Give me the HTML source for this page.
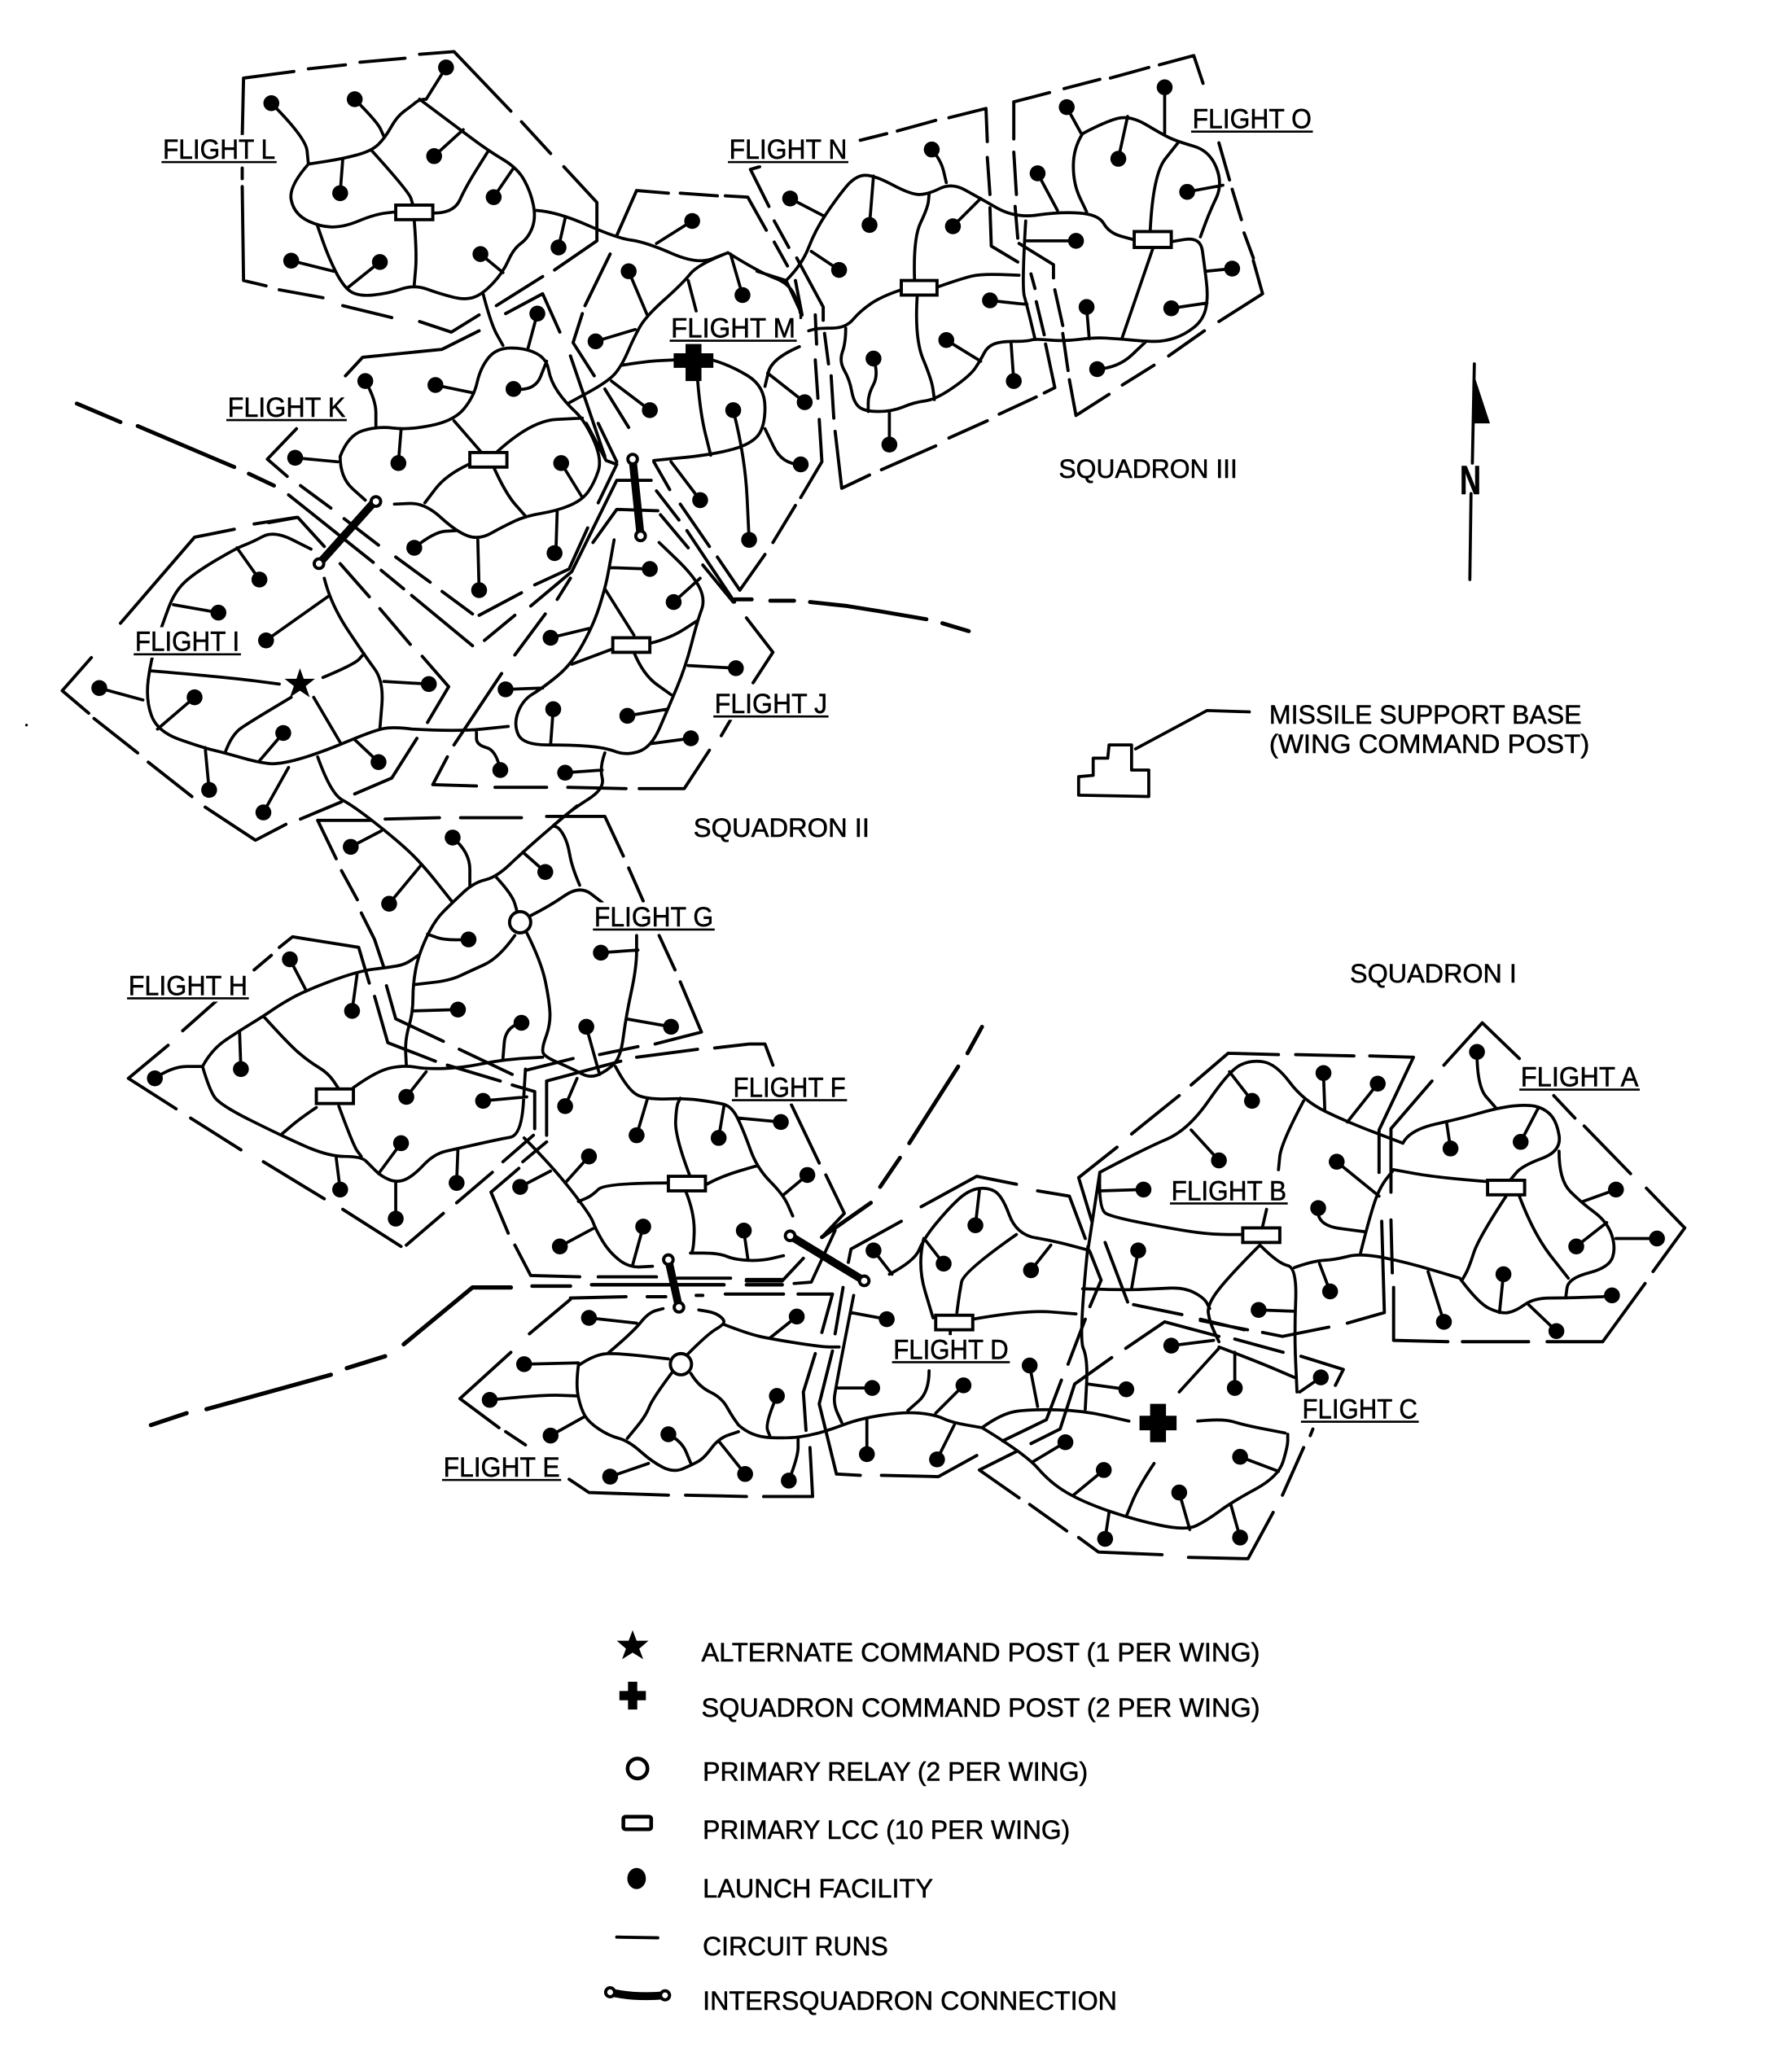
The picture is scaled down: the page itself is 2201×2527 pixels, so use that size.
<!DOCTYPE html>
<html><head><meta charset="utf-8"><style>
html,body{margin:0;padding:0;background:#fff}
svg{display:block}
text{font-family:"Liberation Sans",sans-serif;fill:#000;font-size:20px;stroke:#000;stroke-width:.35}
.f{font-size:21px}
.c{fill:none;stroke:#000;stroke-width:2.3;stroke-linejoin:round;stroke-linecap:round}
.b{fill:none;stroke:#000;stroke-width:2.4;stroke-linejoin:round;stroke-linecap:round}
.u{fill:none;stroke:#000;stroke-width:1.6}
.d{fill:none;stroke:#000;stroke-width:12;stroke-linecap:round}
.r{fill:#fff;stroke:#000;stroke-width:2.4}
.t{fill:none;stroke:#000;stroke-width:6;stroke-linecap:round}
.o{fill:#fff;stroke:#000;stroke-width:2.4}
</style></head><body>
<svg xmlns="http://www.w3.org/2000/svg" width="2201" height="2527" viewBox="0 0 1354 1554.6">
<rect width="1354" height="1554.6" fill="#fff"/>

<!-- boundaries (explicit dashes) -->
<path class="b" d="
M184,59L222,54M233,52L261,49M272,47L306,44M317,41L343,39L386,84M394,92L416,116M426,126L451,153L451,182L419,204M410,209L375,231M362,238L341,251L317,243M296,240L259,231M244,225L211,219M201,216L184,212L183,141M183,135L183,127M183,104L184,59
M224,324L202,347L217,360M227,367L250,384M260,392L286,412M299,421L325,440M334,447L357,464M362,465L394,448M404,442L430,430L444,399M452,380L466,351L458,348L443,320M261,284L274,270L334,264L362,250M382,237L410,222L423,251M431,269L457,345M452,320L466,349
M481,144L505,146M514,146L542,148M548,148L565,149L579,174M585,183L595,201M601,212L606,238M616,238L617,260M616,272L618,301M619,317L621,349L605,376M601,382L584,410M578,419L559,446L542,421M536,413L514,381M506,370L494,349
M481,144L466,178M461,192L442,231M440,237L433,259L449,284M457,294L475,323
M496,371L513,393M519,401L555,455
M401,458L432,432L466,363L492,363M366,484L389,465
M343,563L379,509M389,495L412,464M421,453L431,437M448,410L466,385L497,386M499,389L520,414M531,427L554,455
M338,572L327,593L360,594M374,595L413,595M429,595L473,596M483,596L517,596L536,567M545,556L552,544M569,516L584,493L564,467
M218,374L282,425M288,431L305,445M311,450L357,488
M203,395L225,391L245,413M257,426L279,451M287,460L310,487M319,496L339,519L323,546M315,558L296,588L268,600M258,606L227,619M216,623L193,635L155,610M145,602L112,576M104,569L71,543M67,539L47,522L69,497M91,471L147,406L177,400M192,396L224,391
M574,126L567,128L581,156M585,167L596,187M602,195L622,232L622,242M623,252L626,275M628,284L630,316M631,326L636,369L657,359M666,355L707,337M717,331L746,318M755,313L783,300M789,297L797,293L790,260M783,228L789,253M779,207L782,218M650,106L670,101M678,99L707,91M717,89L745,82L746,107M746,119L748,147M748,157L749,186L769,198M770,184L796,200L796,210M797,219L803,246
M766,77L766,105M766,115L768,147M767,156L769,180M803,252L807,280M808,287L813,314L838,298M848,291L872,276M883,269L910,250M921,243L954,222L947,197M940,176L947,195M931,143L938,166M921,108L929,136M909,63L902,42L876,49M868,51L839,59M831,60L804,67M793,70L766,77
M97,815L127,790M138,779L164,756M192,733L205,722M211,716L221,708L271,716L279,743M283,753L293,788L329,802M338,805L378,817M387,820L404,825L404,853M97,815L133,838M144,845L182,869M199,878L245,906M259,914L303,942M307,941L335,917M345,909L372,886M380,878L403,858
M240,620L280,620M291,619L332,618M348,618L394,618M413,617L457,617L471,647M475,656L486,681M498,707L510,733M514,742L530,780L495,789M482,791L453,797M433,800L397,809M240,620L254,649M258,658L270,680M273,690L283,710L290,731M292,745L299,770L335,787M347,793L387,812
M413,817L413,858M413,817L469,802M481,799L527,793M540,792L566,789L578,789L584,805M598,835L619,879M624,888L638,917L621,935M607,951L592,967L564,967M395,878L413,863M371,901L392,883M371,901L384,932M389,941L401,964L438,965M452,965L496,965M512,966L552,966
M431,982L400,1008M386,1022L347.5,1057L377,1079M382,1082L397,1092M430,1118L445,1128L505,1130M518,1130L564,1131M577,1131L614,1131L612,1094M609,1081L607,1052L616,1023M621,1007L629,978L603,978M592,978L548,978M531,979L526,979M503,980L489,980M473,980L431,981
M641,954L643,944L681,923M696,912L738,889L768,895M784,900L808,904L820,936M823.5,946L832,967.5L823.5,987.5M820,997L807,1031M802,1043L790.6,1073L757.6,1089M632,1114L650,1115M666,1115L709,1116L738,1100M632,1114L619,1061L629,1021M637,973L631,1008
M850.6,1019L880,999L921,1010M840,1026L812,1046L801,1080L779,1091M768,1097L740,1111L770,1132M778,1137L806,1157M815,1162L830,1173L878,1175M898,1177L943,1178L962,1143M969,1130L985,1094M990,1085L992,1080M907,998L942.6,1005M933,1012L969.5,1022M983,1025L1015,1035L1009,1047
M928,796L900,820M891,828L855,857M844,867L815,890L825,923M928,796L966,797M979,797L1023,798M1035,798L1068,799L1042,854L1042,886M1044,923L1046,992L1018,1000M1004,1003L969,1010L954,1007M940,1005L907,997M893,993.5L856.5,986M852,984L835,939
M1120,773L1148,800M1091,805L1120,773M1082,817L1051,853L1051,901M1051,922L1052,962M1053,973L1053,1013L1094,1014M1105,1014L1155,1014M1169,1014L1211,1014L1243,970M1249,961L1273,928L1244,898M1232,887L1197,851M1190,845L1174,828"/>
<path class="c" style="stroke-width:2.7" d="M402,972L431,972M447,971L547,971M564,971L591,971M564,968L591,968"/>
<path class="c" d="M631,930L613,969L600,970"/>
<path class="c" style="stroke-width:3" d="M58,305L91,319M104,322L177,353M188,358L207,367"/>
<path class="c" style="stroke-width:3" d="M555,453L568,453M582,454L600,454M612,455L640,458L665,462L700,468M712,471L732,477"/>
<path class="c" style="stroke-width:3.2" d="M114,1077L141,1068M156,1065L250,1039M262,1034L291,1025M305,1016L357,973L386,973"/>
<path class="c" style="stroke-width:3" d="M742,776L731,796M724,806L687,864M680,875L665,897M658,909L621,935"/>

<!-- circuit runs -->
<path class="c s" d="
M233,124L218,141L222,161L240,171L259,172L283,162L300,160M328,161L343,161L352,141L369,114
M322,75L317,75L311,80L300,88L291,104L281,114L259,120L233,124
M317,75L345,96L369,114L391,127L401,145L405,165L399,180L388,188L380,206L365,222L352,227L332,222L313,215L293,222L270,224L259,216L248,194L240,171
M281,114L309,145L312,155M313,167L315,192L313,215
M205,78L231,104L233,124M268,75L285,92L290,103M337,51L322,75M328,118L350,98M373,149L388,127M257,146L259,120M220,197L252,205M287,198L262,218M363,192L380,206M422,187L427,165
M405,159L421,160L466,180L488,183L527,200L550,191M523,167L496,184
M365,222L371,245L380,261

M257,345L263,329L285,322L309,325L343,318L358,300L363,278L375,263L397,263L413,271L416,288L427,304L442,318L455,347L449,365L440,378L421,386L397,390L380,398L362,408L345,402L321,380L298,381
M257,345L257,361L276,378
M343,318L363,341M375,342L401,318L440,316M354,351L337,359L321,380M373,353L382,373L397,390
M421,386L420,418M424,350L440,376M361,408L362,446M313,414L328,402L345,401M223,346L255,349M301,350L303,325M276,288L284,302L284,322M329,291L358,297M388,294L404,296L413,273M406,237L399,263

M550,191L527,200L516,214L488,239L479,255L470,276L460,288L429,305
M470,276L488,273L510,272M538,272L552,276L578,292L578,324L565,337L535,344L494,348
M550,191L574,206L596,214L604,231L605,240M604,262L583,271L578,292
M475,205L489,238M450,258L480,249M491,310L462,288M561,223L552,192M520,212L526,235M527,286L529,312L537,344M554,310L563,345L566,408M608,304L580,282M605,351L591,351L578,324M529,378L507,349

M464,408L460,431L457,445L449,471L432,502L410,520L395,529L388,547L395,563L432,563L457,565L473,571L492,565L505,535L518,504L527,469L533,453L524,435L498,410
M492,486L507,482L527,469M464,490L432,502M457,445L479,480M479,493L486,510L507,525
M491,430L461,429M509,455L529,437M416,482L445,475M382,521L410,520M418,536L416,563M474,541L504,536M556,505L520,503M522,558L492,562M378,582L375,567L360,563L360,553M427,584L455,582
M457,569L453,580L457,596L432,612L418,624
M311,551L345,553L384,549M311,551L296,549L280,553L242,569L211,578L194,576L170,569L153,565L119,553L110,529L114,498L123,471L132,447L147,433L179,414L190,410L207,401L235,415

M170,569L175,555L190,545L220,527M114,507L173,512L211,517M244,512L268,502L275,494
M245,437L250,457L276,496L290,515L287,551M290,515L324,517
M196,438L179,414M165,463L131,457M201,484L249,450M75,520L108,529M147,527L119,551M214,554L196,575M286,576L268,559M237,527L257,561M158,597L155,565M199,614L218,580
M240,572L250,600L267,609L300,635L319,653L342,682

M594,212L606,200L616,174L632,150L646,133L660,132L688,147L701,147L719,138L739,149L767,165L801,160L830,162L838,176L856,181
M594,212L606,238M572,205L594,212
M681,219L666,224L650,235L639,248L618,248L611,250
M639,248L639,259L634,273L642,287L645,304L653,311L674,311L691,304L707,302L733,284L741,272L746,262L756,258L776,258L782,256L804,258L827,255L844,256L866,258L880,258L895,253L909,242L913,225L910,200L907,179L883,183
M708,217L728,210L742,207L770,208M691,211L690,180L701,157L702,147M693,224L691,256L704,287L706,302
M775,167L772,217L776,231L782,256
M597,150L622,163M657,170L660,133M704,113L711,121L715,138M634,204L613,190M720,171L741,150M748,227L765,229L776,230M715,257L741,273M766,288L764,260M660,271L664,283L656,298L656,311M672,336L672,311

M818,101L835,92L854,87L879,102L890,107L914,114L924,139L914,160L907,179
M818,101L811,112L811,139L821,160
M869,176L871,132L890,108M871,188L848,255
M806,81L817,101M880,66L880,102M845,120L852,88M784,131L799,159M813,182L776,182M897,145L924,140M931,203L911,205M885,233L912,229M821,232L823,256M829,279L845,278L866,258

M436,609L418,624L395,644L375,663L358,667L342,682L328,696L316,722L312,744L312,765L306,786L307,805
M375,663L387,676L391,690M401,692L415,685L438,669L455,682M438,669L432,655L429,637L423,626L418,624
M398,705L409,727L415,756L416,774L409,793L412,799L433,808L446,815L459,809L469,799L473,768L481,731L481,707
M389,707L377,724L355,734L340,741L314,744
M265,640L288,628M294,683L318,654M342,633L355,644L355,670M412,659L395,644M354,710L337,711L323,706M346,763L312,764M394,773L382,776L380,800M443,776L453,812M454,720L482,718M507,776L473,770

M153,806L160,793L181,779L199,768L212,759L230,749L270,734L294,731L306,729L316,722
M153,806L158,823L166,835L212,858L248,874L273,874L280,881L288,889L300,894L312,889L328,872L346,868L377,861L394,858L397,808
M199,768L218,789L233,802L248,811L256,823
M267,822L285,809L306,805L322,808L349,807L374,802L392,800L410,799
M239,837L227,845L213,857M256,836L267,866L273,874
M117,815L130,806L153,806M219,725L231,748M266,764L270,735M182,808L181,780M307,829L322,810M365,832L398,829M303,864L286,887M345,894L346,868M257,899L254,875M299,921L299,894

M465,806L475,825L490,831L518,830L540,833L553,836L562,855L572,883L592,903L599,919
M396,860L417,881L446,918L450,929L460,946L475,958L493,957
M505,894L457,894L447,904L437,908M534,895L545,889L572,881M521,888L510,859L511,836L514,830
M518,900L525,917L524,947L520,947L543,947L555,952L575,953L592,949
M481,858L489,831M543,860L547,836M590,848L558,845M445,874L427,894M393,897L416,885M423,942L449,928M486,927L478,956M562,930L565,951M610,888L592,903M427,836L436,815

M437,1032L450,1023L470,1023L505,1027M437,1032L435,1047L439,1065L445,1075L460,1085L475,1089L493,1105L509,1113L523,1107L532,1102L543,1087L558,1082
M558,1077L568,1086L596,1087L611,1085L626,1081L650,1072L683,1067L706,1069L719,1075L742,1079
M508,1037L493,1057L488,1070L474,1087M520,1023L535,1008L547,1001L547,997L540,992L528,990
M547,1001L565,1008L583,1012L621,1018L634,1018
M522,1038L528,1048L545,1056L553,1070L558,1077
M459,1023L478,1007L490,992L501,989
M445,996L481,1000M396,1031L437,1030M370,1058L410,1054L436,1055M416,1085L441,1071M461,1116L490,1106M505,1084L515,1089L522,1106M563,1114L543,1089M587,1055L578,1076L582,1086M596,1119L603,1101L603,1087M602,995L582,1011

M672,963L691,953L698,936L716,914L731,900L745,897L757,903L768,933L797,938L823,945
M768,933L728,961L725,977L723,992M698,936L693,956L705,996
M735,997L775,990L813,993M718,1005L718,1010
M742,1079L757,1068L780,1065L818,1066L853,1074
M742,1079L775,1099L794,1121L818,1135L855,1148L896,1157L912,1149L931,1135L966,1116L973,1093L973,1084
M905,1074L924,1072L940,1077L971,1083
M822,942L815,1011L822,1027L820,1065
M645,979L631,1050L630,1062L636,1075
M660,945L674,963M737,926L740,900M713,955L699,937M779,960L794,941M670,997L643,992M659,1049L632,1049M728,1047L707,1068M702,1036L702,1052L686,1066M778,1032L784,1063M655,1099L655,1072M708,1103L721,1077

M921,1018L950,1029L978,1041M885,1017L917,1013M998,1041L982,1052M851,1050L822,1046M933,1049L933,1022M891,1052L921,1019M805,1090L780,1105M834,1111L811,1130M872,1106L860,1124L851,1146M891,1128L899,1156M937,1101L966,1112M835,1163L838,1143M937,1162L930,1137

M831,886L865,868L898,854L929,809L945,801L964,804L985,832L1018,848L1060,864M985,832L968,864L966,884
M831,886L830,914L841,920L893,930L917,933L939,933M957,914L954,927
M952,941L929,964L912,986L914,999L921,1014
M953,942L966,955L980,958L978,1008L980,1052
M978,958L992,953L1009,952L1028,947L1063,954L1103,966
M1028,947L1034,923L1042,898L1053,884
M818,974L851,975L874,974L895,973L910,981L914,989
M864,899L831,900M946,832L929,810M1000,811L1001,839M1041,819L1018,848M921,877L900,854M1010,878L1042,904M996,913L994,926L1032,931M860,945L855,974M951,990L978,991M1005,976L997,955M1091,999L1079,961
M831,886L822,945

M1060,864L1065,854L1105,845L1129,838L1148,835L1164,836L1176,846L1180,870L1150,881L1141,892
M1124,893L1086,890L1053,884
M1178,870L1178,892L1195,909L1214,923L1221,942L1216,958L1185,966L1183,981
M1138,904L1117,936L1110,958L1105,967M1148,904L1159,933L1185,966
M1103,966L1117,985L1134,993L1145,991L1159,981L1183,981L1211,980
M1116,795L1116,821L1130,837M1096,868L1093,848M1149,863L1162,838M1221,899L1196,908M1191,942L1214,924M1252,936L1221,936M1136,963L1133,992M1218,979L1211,980M1176,1006L1155,986
"/>

<!-- launch facilities -->
<path class="d" d="M205,78h.01M268,75h.01M337,51h.01M328,118h.01M373,149h.01M257,146h.01M220,197h.01M287,198h.01M363,192h.01M422,187h.01M523,167h.01
M419,418h.01M424,350h.01M362,446h.01M313,414h.01M223,346h.01M301,350h.01M276,288h.01M329,291h.01M388,294h.01M406,237h.01
M475,205h.01M450,258h.01M491,310h.01M561,223h.01M554,310h.01M566,408h.01M608,304h.01M605,351h.01M529,378h.01
M491,430h.01M509,455h.01M416,482h.01M382,521h.01M418,536h.01M474,541h.01M556,505h.01M522,558h.01M378,582h.01M427,584h.01
M196,438h.01M165,463h.01M201,484h.01M75,520h.01M147,527h.01M214,554h.01M286,576h.01M158,597h.01M199,614h.01M324,517h.01
M597,150h.01M657,170h.01M704,113h.01M634,204h.01M720,171h.01M748,227h.01M715,257h.01M766,288h.01M660,271h.01M672,336h.01
M806,81h.01M880,66h.01M845,120h.01M784,131h.01M813,182h.01M897,145h.01M931,203h.01M885,233h.01M821,232h.01M829,279h.01
M265,640h.01M294,683h.01M342,633h.01M412,659h.01M354,710h.01M346,763h.01M394,773h.01M443,776h.01M454,720h.01M507,776h.01
M117,815h.01M219,725h.01M266,764h.01M182,808h.01M307,829h.01M365,832h.01M303,864h.01M345,894h.01M257,899h.01M299,921h.01
M481,858h.01M543,860h.01M590,848h.01M445,874h.01M393,897h.01M423,942h.01M486,927h.01M562,930h.01M610,888h.01M427,836h.01
M445,996h.01M396,1031h.01M370,1058h.01M416,1085h.01M461,1116h.01M505,1084h.01M563,1114h.01M587,1055h.01M596,1119h.01M602,995h.01
M660,945h.01M737,926h.01M713,955h.01M779,960h.01M670,997h.01M659,1049h.01M728,1047h.01M778,1032h.01M655,1099h.01M708,1103h.01
M885,1017h.01M998,1041h.01M851,1050h.01M933,1049h.01M805,1090h.01M834,1111h.01M891,1128h.01M937,1101h.01M835,1163h.01M937,1162h.01
M864,899h.01M946,832h.01M1000,811h.01M1041,819h.01M921,877h.01M1010,878h.01M996,913h.01M860,945h.01M951,990h.01M1005,976h.01M1091,999h.01
M1116,795h.01M1096,868h.01M1149,863h.01M1221,899h.01M1191,942h.01M1252,936h.01M1136,963h.01M1218,979h.01M1176,1006h.01"/>

<!-- primary LCC -->
<rect class="r" x="299" y="155" width="28" height="11"/>
<rect class="r" x="355" y="342" width="28" height="11"/>
<rect class="r" x="463" y="482" width="28" height="11"/>
<rect class="r" x="681" y="212" width="27" height="11"/>
<rect class="r" x="857" y="175" width="28" height="12"/>
<rect class="r" x="239" y="823" width="28" height="11"/>
<rect class="r" x="505" y="889" width="28" height="11"/>
<rect class="r" x="707" y="994" width="28" height="11"/>
<rect class="r" x="939" y="928" width="28" height="11"/>
<rect class="r" x="1124" y="892" width="28" height="11"/>

<!-- relays -->
<circle class="o" cx="393" cy="697" r="8"/>
<circle class="o" cx="514.5" cy="1031" r="8"/>

<!-- command posts -->
<polygon fill="#000" points="226.6,505 229.5,513 238,513 231,518.5 234,527 226.6,522 219,527 222,518.5 215,513 224,513"/>
<path fill="#000" d="M518,258h12v9h9v11h-9v10h-12v-10h-9v-11h9z"/>
<path fill="#000" d="M869,1061h12v9h8v11h-8v9h-12v-9h-8v-11h8z"/>

<!-- intersquadron connections -->
<path class="t" d="M241,426L284,378"/><circle class="o" cx="241" cy="426" r="3.6"/><circle class="o" cx="284" cy="379" r="3.6"/>
<path class="t" d="M478,347L484,405"/><circle class="o" cx="478" cy="347" r="3.6"/><circle class="o" cx="484" cy="405" r="3.6"/>
<path class="t" d="M505,952L513,988"/><circle class="o" cx="505" cy="952" r="3.6"/><circle class="o" cx="513" cy="988" r="3.6"/>
<path class="t" d="M597,934L653,968"/><circle class="o" cx="597" cy="934" r="3.6"/><circle class="o" cx="653" cy="968" r="3.6"/>

<!-- flight labels -->
<g fill="#fff">
<rect x="120" y="102" width="91" height="23"/><rect x="548" y="102" width="95" height="23"/><rect x="504" y="237" width="100" height="23"/><rect x="169" y="297" width="95" height="23"/><rect x="99" y="474" width="85" height="23"/><rect x="537" y="521" width="91" height="23"/><rect x="898" y="79" width="96" height="23"/><rect x="446" y="682" width="96" height="23"/><rect x="94" y="734" width="96" height="23"/><rect x="551" y="811" width="91" height="23"/><rect x="332" y="1098" width="94" height="23"/><rect x="672" y="1009" width="93" height="23"/><rect x="981" y="1054" width="93" height="23"/><rect x="882" y="889" width="93" height="23"/><rect x="1146" y="803" width="95" height="23"/>
</g>
<text class="f" x="123" y="120" textLength="85" lengthAdjust="spacingAndGlyphs">FLIGHT L</text><path class="u" d="M122,122.5h87"/>
<text class="f" x="551" y="120" textLength="89" lengthAdjust="spacingAndGlyphs">FLIGHT N</text><path class="u" d="M550,122.5h91"/>
<text class="f" x="507" y="255" textLength="94" lengthAdjust="spacingAndGlyphs">FLIGHT M</text><path class="u" d="M506,257.5h96"/>
<text class="f" x="172" y="315" textLength="89" lengthAdjust="spacingAndGlyphs">FLIGHT K</text><path class="u" d="M171,317.5h91"/>
<text class="f" x="102" y="492" textLength="79" lengthAdjust="spacingAndGlyphs">FLIGHT I</text><path class="u" d="M101,494.5h81"/>
<text class="f" x="540" y="539" textLength="85" lengthAdjust="spacingAndGlyphs">FLIGHT J</text><path class="u" d="M539,541.5h87"/>
<text class="f" x="901" y="97" textLength="90" lengthAdjust="spacingAndGlyphs">FLIGHT O</text><path class="u" d="M900,99.5h92"/>
<text class="f" x="449" y="700" textLength="90" lengthAdjust="spacingAndGlyphs">FLIGHT G</text><path class="u" d="M448,702.5h92"/>
<text class="f" x="97" y="752" textLength="90" lengthAdjust="spacingAndGlyphs">FLIGHT H</text><path class="u" d="M96,754.5h92"/>
<text class="f" x="554" y="829" textLength="85" lengthAdjust="spacingAndGlyphs">FLIGHT F</text><path class="u" d="M553,831.5h87"/>
<text class="f" x="335" y="1116" textLength="88" lengthAdjust="spacingAndGlyphs">FLIGHT E</text><path class="u" d="M334,1118.5h90"/>
<text class="f" x="675" y="1027" textLength="87" lengthAdjust="spacingAndGlyphs">FLIGHT D</text><path class="u" d="M674,1029.5h89"/>
<text class="f" x="984" y="1072" textLength="87" lengthAdjust="spacingAndGlyphs">FLIGHT C</text><path class="u" d="M983,1074.5h89"/>
<text class="f" x="885" y="907" textLength="87" lengthAdjust="spacingAndGlyphs">FLIGHT B</text><path class="u" d="M884,909.5h89"/>
<text class="f" x="1149" y="821" textLength="89" lengthAdjust="spacingAndGlyphs">FLIGHT A</text><path class="u" d="M1148,823.5h91"/>

<!-- squadrons -->
<text x="800" y="361" textLength="135" lengthAdjust="spacingAndGlyphs">SQUADRON III</text>
<text x="524" y="632.5" textLength="133" lengthAdjust="spacingAndGlyphs">SQUADRON II</text>
<text x="1020" y="742.5" textLength="126" lengthAdjust="spacingAndGlyphs">SQUADRON I</text>

<!-- north arrow -->
<path class="c" d="M1114,275L1112.5,350M1111.5,373L1110.6,438"/>
<polygon fill="#000" points="1114,284 1125.8,320 1113,320"/>
<text x="1103" y="373.5" style="font-size:31px;font-weight:bold" textLength="16" lengthAdjust="spacingAndGlyphs">N</text>

<!-- missile support base -->
<path class="c" d="M815,587L826,586L826,573L837,573L838,563L855,563L855,582L868,582L868,602L815,601Z"/>
<path class="c" d="M858,566L912,537L944,538"/>
<text x="959" y="547" textLength="236" lengthAdjust="spacingAndGlyphs">MISSILE SUPPORT BASE</text>
<text x="959" y="569" textLength="242" lengthAdjust="spacingAndGlyphs">(WING COMMAND POST)</text>

<!-- legend -->
<polygon fill="#000" points="478,1232 481,1240 490,1240 483,1246 486,1254 478,1249 470,1254 473,1246 466,1240 475,1240"/>
<path fill="#000" d="M474.5,1271h7v7h6.5v7h-6.5v7h-7v-7h-6.5v-7h6.5z"/>
<circle cx="481.7" cy="1336.6" r="7.5" fill="#fff" stroke="#000" stroke-width="2.8"/>
<rect x="471" y="1373" width="21" height="9.5" rx="1.5" fill="#fff" stroke="#000" stroke-width="2.8"/>
<ellipse cx="481" cy="1419.7" rx="7" ry="8" fill="#000"/>
<path class="c" style="stroke-width:2.4" d="M466,1464L497,1464.5"/>
<path class="t" d="M461,1505.7Q480,1510 502,1508"/>
<circle class="o" cx="461" cy="1505.7" r="3.4"/><circle class="o" cx="502.5" cy="1508" r="3.4"/>
<text x="530" y="1255.7" textLength="422" lengthAdjust="spacingAndGlyphs">ALTERNATE COMMAND POST (1 PER WING)</text>
<text x="530" y="1297.6" textLength="422" lengthAdjust="spacingAndGlyphs">SQUADRON COMMAND POST (2 PER WING)</text>
<text x="531" y="1345.6" textLength="291" lengthAdjust="spacingAndGlyphs">PRIMARY RELAY (2 PER WING)</text>
<text x="531" y="1389.8" textLength="277.5" lengthAdjust="spacingAndGlyphs">PRIMARY LCC (10 PER WING)</text>
<text x="531" y="1434" textLength="174" lengthAdjust="spacingAndGlyphs">LAUNCH FACILITY</text>
<text x="531" y="1477.6" textLength="140" lengthAdjust="spacingAndGlyphs">CIRCUIT RUNS</text>
<text x="531" y="1519" textLength="313" lengthAdjust="spacingAndGlyphs">INTERSQUADRON CONNECTION</text>
<circle cx="20" cy="548" r="1" fill="#000"/>
</svg>
<script>
document.querySelectorAll('path.s').forEach(function(p){
  var out='';
  p.getAttribute('d').split('M').forEach(function(s){
    s=s.trim(); if(!s) return;
    var a=s.split('L').map(function(q){return q.trim().split(',').map(Number)});
    out+='M'+a[0][0]+','+a[0][1];
    for(var i=1;i<a.length-1;i++){
      var mx=(a[i][0]+a[i+1][0])/2,my=(a[i][1]+a[i+1][1])/2;
      out+='Q'+a[i][0]+','+a[i][1]+' '+mx+','+my;
    }
    var e=a[a.length-1]; out+='L'+e[0]+','+e[1];
  });
  p.setAttribute('d',out);
});
</script>
</body></html>
